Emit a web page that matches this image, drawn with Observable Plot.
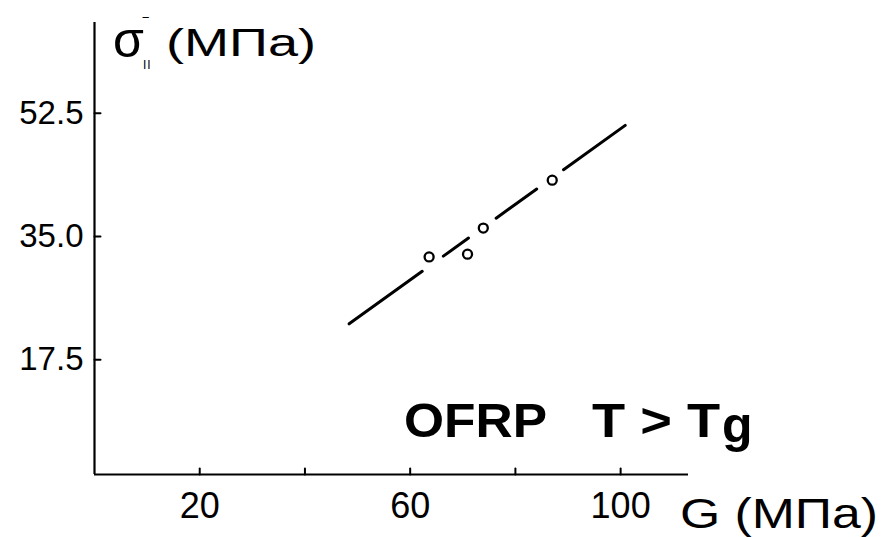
<!DOCTYPE html>
<html><head><meta charset="utf-8">
<script src="https://cdn.jsdelivr.net/npm/d3@7"></script>
<script src="https://cdn.jsdelivr.net/npm/@observablehq/plot@0.6"></script>
<style>body{margin:0;background:#fff} svg{display:block}</style>
</head><body><div id="chart"></div>
<script>
// Data
const modulusG = [63.6, 70.9, 73.9, 87.0];        // G (МПа)
const strength = [32.1, 32.5, 36.2, 43.0];        // σ (МПа)
const fitG = [48.4, 100.9];                        // fitted line ends
const fitStrength = [22.6, 50.8];
const xTicks = [20, 40, 60, 80, 100];
const xTickLabels = ["20", "", "60", "", "100"];
const yTicks = [17.5, 35.0, 52.5];
const yTickLabels = ["17.5", "35.0", "52.5"];
const xDomain = [0, 112.9];
const yDomain = [1.2, 65.4];
const material = "OFRP";
const condition = ["T > T", "g"];
const yTitle = ["σ", "II", "(МПа)"];
const xTitle = "G (МПа)";

const points = modulusG.map((g, i) => ({g, s: strength[i]}));
const fit = fitG.map((g, i) => ({g, s: fitStrength[i]}));
const FONT = "'Liberation Sans', Arial, sans-serif";
const tickShape = {draw(context, l) { context.moveTo(0, 0); context.lineTo(0, -l); }};

const plot = Plot.plot({
  width: 885, height: 537,
  marginLeft: 94, marginRight: 197, marginTop: 22, marginBottom: 63,
  x: {domain: xDomain, label: null},
  y: {domain: yDomain, label: null},
  style: {fontFamily: FONT, background: "white", color: "black"},
  marks: [
    Plot.ruleX([xDomain[0]], {strokeWidth: 2.2}),
    Plot.ruleY([yDomain[0]], {strokeWidth: 2.2}),
    Plot.axisX(xTicks, {tickSize: 0, tickPadding: 18, fontSize: 36, label: null,
      tickFormat: d => xTickLabels[xTicks.indexOf(d)]}),
    Plot.axisY(yTicks, {tickSize: 0, tickPadding: 11, fontSize: 33, label: null,
      tickFormat: d => yTickLabels[yTicks.indexOf(d)]}),
    Plot.vector(xTicks, {x: d => d, frameAnchor: "bottom", length: 6, anchor: "start",
      rotate: 0, shape: tickShape, stroke: "black", strokeWidth: 2}),
    Plot.vector(yTicks, {y: d => d, frameAnchor: "left", length: 6, anchor: "start",
      rotate: 90, shape: tickShape, stroke: "black", strokeWidth: 2}),
    Plot.line(fit, {x: "g", y: "s", strokeWidth: 3, strokeLinecap: "round",
      strokeDasharray: "90,26,31,34,50,33,76"}),
    Plot.dot(points, {x: "g", y: "s", r: 4.5, stroke: "black", strokeWidth: 2.3, fill: "white"})
  ]
});
document.getElementById("chart").appendChild(plot);

// annotations
const svg = d3.select(plot);
const ann = svg.append("g").attr("font-family", FONT).attr("fill", "black").attr("text-anchor", "start");
// y title
ann.append("text").attr("x", 113).attr("y", 57).attr("font-size", 50).text(yTitle[0]);
ann.append("text").attr("x", 143).attr("y", 69).attr("font-size", 12).attr("letter-spacing", 1).text(yTitle[1]);
ann.append("text").attr("x", 143).attr("y", 30).attr("font-size", 16).text("‾");
ann.append("text").attr("x", 166).attr("y", 56).attr("font-size", 38)
  .attr("textLength", 150).attr("lengthAdjust", "spacingAndGlyphs").text(yTitle[2]);
// x title
ann.append("text").attr("x", 680).attr("y", 528).attr("font-size", 42)
  .attr("textLength", 198).attr("lengthAdjust", "spacingAndGlyphs").text(xTitle);
// material + condition
ann.append("text").attr("x", 404).attr("y", 437).attr("font-size", 48).attr("font-weight", "bold")
  .attr("textLength", 143).attr("lengthAdjust", "spacingAndGlyphs").text(material);
ann.append("text").attr("x", 592).attr("y", 437).attr("font-size", 48).attr("font-weight", "bold")
  .attr("textLength", 128).attr("lengthAdjust", "spacingAndGlyphs").text(condition[0]);
ann.append("text").attr("x", 722).attr("y", 442).attr("font-size", 50).attr("font-weight", "bold")
  .text(condition[1]);
</script></body></html>
